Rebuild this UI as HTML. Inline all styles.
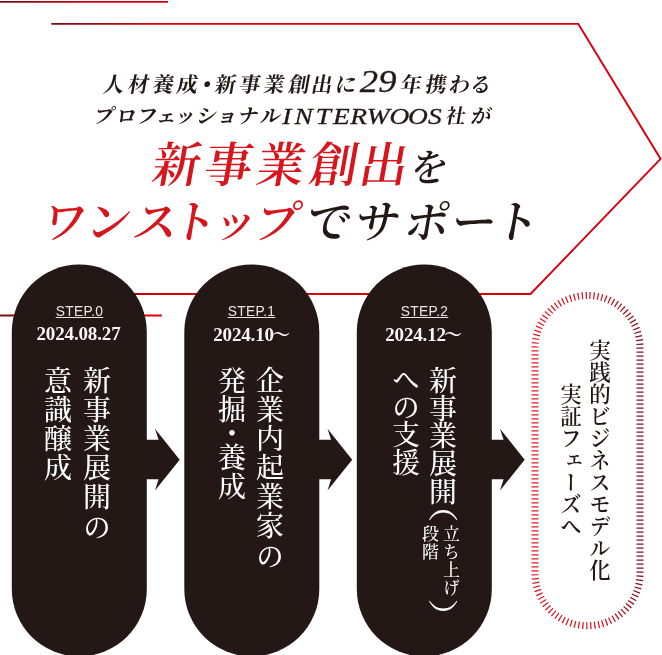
<!DOCTYPE html>
<html lang="ja">
<head>
<meta charset="utf-8">
<title>新事業創出をワンストップでサポート</title>
<style>
html,body{margin:0;padding:0;background:#fff;}
body{width:662px;height:655px;position:relative;overflow:hidden;font-family:"Liberation Serif","Noto Serif CJK JP","Noto Serif CJK SC",serif;color:#231815;}
#bg{position:absolute;left:0;top:0;width:662px;height:655px;display:block;will-change:transform;}
.t{position:absolute;white-space:nowrap;line-height:1;margin:0;will-change:transform;}
.step{font-family:"Liberation Sans","Noto Sans CJK JP",sans-serif;font-size:13.8px;color:#ebe4e2;text-decoration:underline;text-underline-offset:1.2px;text-decoration-thickness:0.7px;letter-spacing:.3px;width:135px;text-align:center;}
.date{font-family:"Liberation Serif",serif;font-weight:700;font-size:19px;color:#fbf7f6;width:135px;text-align:center;letter-spacing:-0.15px;}
.v{position:absolute;will-change:transform;writing-mode:vertical-rl;white-space:nowrap;line-height:1;font-size:28px;letter-spacing:1px;color:#fff;font-weight:500;}
.vd{color:#231815;font-size:21.5px;letter-spacing:0.5px;font-weight:600;}
.sm{font-size:17px;letter-spacing:1px;}
.wd{font-family:"Noto Serif CJK JP","Noto Serif CJK SC",serif;font-size:18px;margin-left:-2px;}
.pr{transform:scale(1.07,1.2);transform-origin:50% 50%;}
</style>
</head>
<body>
<svg id="bg" width="662" height="655" viewBox="0 0 662 655">
  <defs>
    <linearGradient id="g1" gradientUnits="userSpaceOnUse" x1="0" y1="0" x2="95" y2="0">
      <stop offset="0" stop-color="#7a0a16"/><stop offset="1" stop-color="#d7000f"/>
    </linearGradient>
    <linearGradient id="g2" gradientUnits="userSpaceOnUse" x1="52" y1="0" x2="150" y2="0">
      <stop offset="0" stop-color="#7a0a16"/><stop offset="1" stop-color="#d7000f"/>
    </linearGradient>
    <linearGradient id="g3" gradientUnits="userSpaceOnUse" x1="95" y1="0" x2="165" y2="0">
      <stop offset="0" stop-color="#7a0a16"/><stop offset="1" stop-color="#d7000f"/>
    </linearGradient>
    <linearGradient id="g4" gradientUnits="userSpaceOnUse" x1="0" y1="0" x2="95" y2="0">
      <stop offset="0" stop-color="#7a0a16"/><stop offset="1" stop-color="#d7000f"/>
    </linearGradient>
    <linearGradient id="g5" gradientUnits="userSpaceOnUse" x1="531" y1="0" x2="644" y2="0">
      <stop offset="0" stop-color="#de1a22"/><stop offset="0.6" stop-color="#d0141e"/><stop offset="1" stop-color="#7a0a1c"/>
    </linearGradient>
  </defs>
  <!-- red outline arrow -->
  <path d="M0 1.9H168" stroke="url(#g1)" stroke-width="1.9" fill="none"/>
  <path d="M51.3 23.9H578.3L660.6 158.9L530.5 294" stroke="url(#g2)" stroke-width="1.9" fill="none" stroke-linejoin="miter"/>
  <path d="M531.2 294H95" stroke="url(#g3)" stroke-width="1.9" fill="none"/>
  <path d="M0 315.5H161.8" stroke="url(#g4)" stroke-width="1.9" fill="none"/>
  <!-- dashed pill -->
  <rect x="535" y="295.5" width="105" height="330.2" rx="52.5" ry="52.5" fill="none" stroke="url(#g5)" stroke-width="7" stroke-dasharray="1.25 2.75" stroke-dashoffset="2.1"/>
  <!-- dark pills with arrows -->
  <g fill="#231815">
    <rect x="11.8" y="264.5" width="135" height="392" rx="67.5"/>
    <rect x="184.3" y="264.5" width="135" height="392" rx="67.5"/>
    <rect x="356.8" y="264.5" width="135" height="392" rx="67.5"/>
    <path id="ar" d="M146 439.7H158.6L155 428.7L179.7 459.7L155 490.6L158.6 479.3H146Z"/>
    <path d="M146 439.7H158.6L155 428.7L179.7 459.7L155 490.6L158.6 479.3H146Z" transform="translate(172.5 0)"/>
    <path d="M146 439.7H158.6L155 428.7L179.7 459.7L155 490.6L158.6 479.3H146Z" transform="translate(345 0)"/>
  </g>
  <g id="toptext">
<text id="l1a" transform="skewX(-10)" font-family='"Liberation Serif","Noto Serif CJK JP","Noto Serif CJK SC",serif' font-weight="700" font-style="normal" font-size="21" fill="#231815" x="118.56 143.26 168.01 192.01" y="92.2">人材養成</text>
<text id="l1d" transform="skewX(-10)" font-family='"Liberation Serif","Noto Serif CJK JP","Noto Serif CJK SC",serif' font-weight="700" font-style="normal" font-size="26" fill="#231815" x="209.04" y="94.1">・</text>
<text id="l1c" transform="skewX(-10)" font-family='"Liberation Serif","Noto Serif CJK JP","Noto Serif CJK SC",serif' font-weight="700" font-style="normal" font-size="21" fill="#231815" x="230.21 254.51 278.81 303.76 326.66 350.56" y="92.2">新事業創出に</text>
<text id="l1n" transform="scale(1.18 1)" font-family='"Liberation Serif",serif' font-weight="400" font-style="italic" font-size="31" fill="#231815" stroke="#231815" stroke-width="0.3" x="304.83 320.51" y="92.3">29</text>
<text id="l1b" transform="skewX(-10)" font-family='"Liberation Serif","Noto Serif CJK JP","Noto Serif CJK SC",serif' font-weight="700" font-style="normal" font-size="21" fill="#231815" x="415.76 440.81 464.36 485.61" y="92.2">年携わる</text>
<text id="l2a" transform="skewX(-10) scale(1.04 1)" font-family='"Liberation Serif","Noto Serif CJK JP","Noto Serif CJK SC",serif' font-weight="700" font-style="normal" font-size="20" fill="#231815" x="109.91 131.4 151.45 170.1 188.13 208.56 228.37 248.61 270.1" y="122.8">プロフェッショナル</text>
<text id="l2n" transform="scale(1.18 1)" font-family='"Liberation Serif",serif' font-weight="400" font-style="italic" font-size="23.2" fill="#231815" stroke="#231815" stroke-width="0.3" x="239.15 249.53 267.58 282.25 296.86 310.81 330.08 345.85 362.67" y="124.0">INTERWOOS</text>
<text id="l2b" transform="skewX(-10)" font-family='"Liberation Serif","Noto Serif CJK JP","Noto Serif CJK SC",serif' font-weight="700" font-style="normal" font-size="20" fill="#231815" x="466.3 491.8" y="122.8">社が</text>
<text id="h1a" transform="skewX(-10)" font-family='"Liberation Serif","Noto Serif CJK JP","Noto Serif CJK SC",serif' font-weight="600" font-style="normal" font-size="48" fill="#d7151d" x="182.24 234.14 286.39 339.39 389.54" y="182.3">新事業創出</text>
<text id="h1b" transform="skewX(-10)" font-family='"Liberation Serif","Noto Serif CJK JP","Noto Serif CJK SC",serif' font-weight="600" font-style="normal" font-size="37.6" fill="#231815" x="440.49" y="181.4">を</text>
<text id="h2a" transform="skewX(-10)" font-family='"Liberation Serif","Noto Serif CJK JP","Noto Serif CJK SC",serif' font-weight="600" font-style="normal" font-size="45" fill="#d7151d" x="81.6 125.75 172.9 211.65 252.65 294.5" y="238.5">ワンストップ</text>
<text id="h2b" transform="skewX(-10)" font-family='"Liberation Serif","Noto Serif CJK JP","Noto Serif CJK SC",serif' font-weight="600" font-style="normal" font-size="45" fill="#231815" x="346.05 394.9 444.25 491.0 533.75" y="238.5">でサポート</text>
  </g>
</svg>


<div class="t step" style="left:11.8px;top:305.4px;">STEP.0</div>
<div class="t date" style="left:11.3px;top:323.9px;">2024.08.27</div>
<div class="t step" style="left:184.3px;top:305.4px;">STEP.1</div>
<div class="t date" style="left:183.8px;top:323.9px;">2024.10<span class="wd">～</span></div>
<div class="t step" style="left:356.8px;top:305.4px;">STEP.2</div>
<div class="t date" style="left:356.3px;top:323.9px;">2024.12<span class="wd">～</span></div>

<div class="v" style="left:79.7px;top:365.5px;">新事業展開<span style="margin-top:2px">の</span></div>
<div class="v" style="left:41px;top:365.5px;">意識醸成</div>

<div class="v" style="left:253.2px;top:365.5px;">企業内起業家<span style="margin-top:2px">の</span></div>
<div class="v" style="left:215.2px;top:365.5px;">発掘<span style="margin:-5px 0">・</span>養成</div>

<div class="v" style="left:426px;top:365.5px;letter-spacing:-0.1px;">新事業展開</div>
<div class="v pr" id="po" style="left:425.7px;top:491.2px;">（</div>
<div class="v sm" id="sm1" style="left:440.8px;top:525px;">立ち上げ</div>
<div class="v sm" id="sm2" style="left:420.1px;top:525px;">段階</div>
<div class="v pr" id="pc" style="left:425.7px;top:601.7px;">）</div>
<div class="v" style="left:388.6px;top:364.5px;letter-spacing:-0.1px;">への支援</div>

<div class="v vd" id="r1" style="left:585.9px;top:339.3px;">実践的ビジネスモデル化</div>
<div class="v vd" id="r2" style="left:556.9px;top:383.3px;">実証フェーズへ</div>
</body>
</html>
